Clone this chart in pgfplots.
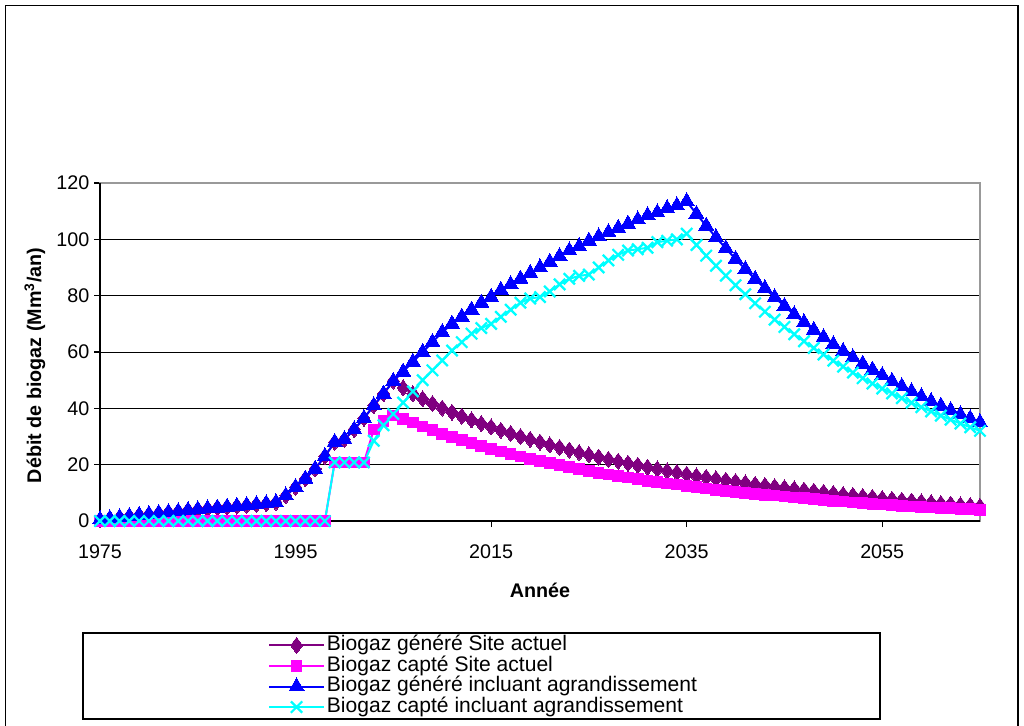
\documentclass[border=0pt]{standalone}
\usepackage{pgfplots}
\pgfplotsset{compat=1.18}
\usepackage{pgfplotstable}
\usepackage{fontspec}
\setmainfont{Liberation Sans}
\definecolor{cPurple}{RGB}{128,0,128}
\definecolor{cMagenta}{RGB}{255,0,255}
\definecolor{cBlue}{RGB}{0,0,255}
\definecolor{cCyan}{RGB}{0,255,255}
\pgfplotstableread{
year gen capt genx captx
1975 0.5 0 0.5 0
1976 0.9 0 0.9 0
1977 1.3 0 1.3 0
1978 1.7 0 1.7 0
1979 2.1 0 2.1 0
1980 2.4 0 2.4 0
1981 2.8 0 2.8 0
1982 3.1 0 3.1 0
1983 3.4 0 3.4 0
1984 3.8 0 3.8 0
1985 4.1 0 4.1 0
1986 4.4 0 4.4 0
1987 4.7 0 4.7 0
1988 5.0 0 5.0 0
1989 5.3 0 5.3 0
1990 5.6 0 5.6 0
1991 5.9 0 5.9 0
1992 6.2 0 6.2 0
1993 6.6 0 6.6 0
1994 9.0 0 9.0 0
1995 12.0 0 12.0 0
1996 15.0 0 15.0 0
1997 18.5 0 18.5 0
1998 23.0 0 23.0 0
1999 28.0 20.8 28.0 20.8
2000 29.0 20.8 29.0 20.8
2001 32.5 20.8 32.5 20.8
2002 36.5 20.8 36.5 20.8
2003 41.0 32.5 41.0 28.5
2004 45.2 35.5 45.2 34.0
2005 49.7 37.5 49.7 38.0
2006 47.3 36.3 53.0 42.0
2007 45.2 35.0 56.5 46.0
2008 43.4 33.6 60.0 50.0
2009 41.7 32.3 63.5 53.5
2010 40.1 31.0 67.0 57.0
2011 38.6 29.8 70.0 60.5
2012 37.2 28.7 72.5 63.5
2013 35.9 27.6 75.0 66.5
2014 34.6 26.6 77.5 68.5
2015 33.4 25.6 79.5 70.0
2016 32.2 24.7 82.0 72.5
2017 31.1 23.8 84.0 75.0
2018 30.0 22.9 86.0 77.5
2019 29.0 22.1 88.0 79.0
2020 28.0 21.3 90.0 79.5
2021 27.0 20.5 92.0 81.5
2022 26.1 19.8 94.0 84.0
2023 25.2 19.1 96.0 86.0
2024 24.3 18.4 97.5 87.0
2025 23.5 17.8 99.5 87.5
2026 22.7 17.1 101.0 90.0
2027 21.9 16.5 102.5 92.5
2028 21.2 16.0 104.0 94.5
2029 20.5 15.4 105.5 96.0
2030 19.8 14.9 107.0 96.5
2031 19.1 14.3 108.5 97.0
2032 18.5 13.8 109.5 99.0
2033 17.8 13.3 111.0 99.5
2034 17.2 12.9 112.0 100.0
2035 16.6 12.4 113.5 102.0
2036 16.0 12.0 109.0 98.0
2037 15.5 11.5 104.8 94.2
2038 15.0 11.1 100.7 90.6
2039 14.5 10.7 96.8 87.1
2040 14.0 10.4 93.0 83.7
2041 13.5 10.0 89.4 80.5
2042 13.0 9.7 85.9 77.3
2043 12.6 9.3 82.6 74.3
2044 12.2 9.0 79.4 71.5
2045 11.8 8.7 76.3 68.9
2046 11.4 8.4 73.3 66.3
2047 11.0 8.1 70.5 63.8
2048 10.6 7.8 67.8 61.4
2049 10.2 7.5 65.2 59.1
2050 9.8 7.2 62.7 56.9
2051 9.4 6.9 60.3 54.8
2052 9.1 6.6 58.0 52.7
2053 8.7 6.3 55.8 50.7
2054 8.4 6.1 53.7 48.8
2055 8.0 5.8 51.7 47.0
2056 7.7 5.6 49.7 45.3
2057 7.4 5.4 47.8 43.6
2058 7.1 5.2 46.0 42.0
2059 6.8 5.0 44.2 40.4
2060 6.5 4.8 42.5 38.9
2061 6.2 4.6 40.9 37.4
2062 6.0 4.5 39.3 36.0
2063 5.7 4.3 37.8 34.6
2064 5.5 4.2 36.4 33.3
2065 5.2 4.0 35.0 32.0
}\datatable
\begin{document}
\begin{tikzpicture}
\useasboundingbox (0,0) rectangle (768pt,543.75pt);
% outer frame
\draw[line width=1.2pt] (4.2pt,-5pt) -- (4.2pt,539.6pt) -- (763.5pt,539.6pt) -- (763.5pt,-5pt);
% legend box
\draw[line width=0.9pt] (62.25pt,4.5pt) rectangle (660pt,69pt);
\begin{axis}[
  at={(75pt,153pt)}, anchor=south west,
  scale only axis, width=660pt, height=253.5pt,
  xmin=1975, xmax=2065, ymin=0, ymax=120,
  xtick={1975,1995,2015,2035,2055},
  ytick={0,20,40,60,80,100,120},
  xticklabel style={yshift=-10pt},
  /pgf/number format/1000 sep={},
  /pgf/number format/assume math mode=true,
  tick label style={font=\fontsize{14.8}{18}\selectfont},
  tick align=outside, tick pos=left,
  major tick length=4.5pt,
  tick style={black, line width=0.8pt},
  ymajorgrids, grid style={black, line width=0.75pt},
  axis line style={draw=gray!80, line width=1.5pt},
  xlabel={\bfseries Année},
  ylabel={\bfseries Débit de biogaz (Mm\textsuperscript{3}/an)},
  label style={font=\fontsize{14.8}{18}\selectfont},
  xlabel style={at={(axis description cs:0.5,-0.204)}, anchor=center},
  ylabel style={at={(axis description cs:-0.074,0.46)}, anchor=center},
  legend cell align=left,
  legend style={draw=none, fill=none, at={(axis description cs:0.1909,-0.337)}, anchor=north west,
    font=\fontsize{15.8}{19}\selectfont, row sep=0pt, inner sep=0pt,
    nodes={inner xsep=1.5pt, inner ysep=0.7pt, text height=11pt, text depth=3pt}},
  legend image code/.code={\draw[mark repeat=2, mark phase=2] plot coordinates {(0pt,0pt) (20.5pt,0pt) (41pt,0pt)};},
  clip=false,
]
\addplot[cPurple, line width=1.5pt, mark=diamond*, mark size=6pt, mark options={solid, fill=cPurple, draw=cPurple, line width=0pt}] table[x=year, y=gen] {\datatable};
\addlegendentry{Biogaz généré Site actuel}
\addplot[cMagenta, line width=1.5pt, mark=square*, mark size=4pt, mark options={solid, fill=cMagenta, draw=cMagenta, line width=0pt}] table[x=year, y=capt] {\datatable};
\addlegendentry{Biogaz capté Site actuel}
\addplot[cBlue, line width=1.5pt, mark=triangle*, mark size=6.5pt, mark options={solid, fill=cBlue, draw=cBlue, line width=0pt}] table[x=year, y=genx] {\datatable};
\addlegendentry{Biogaz généré incluant agrandissement}
\addplot[cCyan, line width=1.5pt, mark=x, mark size=6pt, mark options={solid, draw=cCyan, line width=1.7pt}] table[x=year, y=captx] {\datatable};
\addlegendentry{Biogaz capté incluant agrandissement}
\draw[black, line width=1.5pt] (rel axis cs:0,1) -- (rel axis cs:0,0) -- (rel axis cs:1,0);
\end{axis}
\end{tikzpicture}
\end{document}
